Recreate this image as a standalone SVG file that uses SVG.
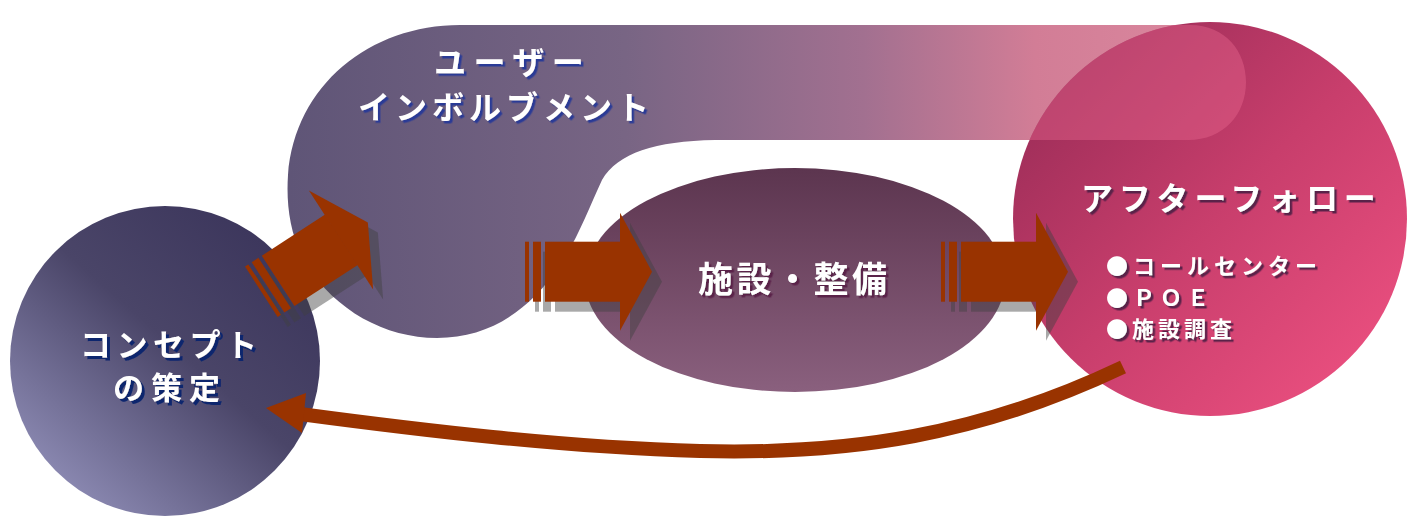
<svg xmlns="http://www.w3.org/2000/svg" width="1410" height="519" viewBox="0 0 1410 519">
<style>
.t{font-family:"Noto Sans CJK JP","Noto Sans",sans-serif;font-weight:700;fill:#ffffff}
.arrow{fill:#993300}
.shadow{fill:#404040;fill-opacity:0.45}
.ret{fill:none;stroke:#993300;stroke-width:14}
</style>
<defs>
<linearGradient id="gLeft" x1="0.85" y1="0.1" x2="0.15" y2="0.9">
<stop offset="0" stop-color="#3c365c"/>
<stop offset="0.45" stop-color="#4a4568"/>
<stop offset="1" stop-color="#8c8ab3"/>
</linearGradient>
<linearGradient id="gBlob" gradientUnits="userSpaceOnUse" x1="290" y1="0" x2="1246" y2="0">
<stop offset="0" stop-color="#5f5577"/>
<stop offset="0.35" stop-color="#786584"/>
<stop offset="0.6" stop-color="#a27090"/>
<stop offset="0.78" stop-color="#d27d96"/>
<stop offset="1" stop-color="#dc8aa0"/>
</linearGradient>
<linearGradient id="gMid" x1="0" y1="0" x2="0" y2="1">
<stop offset="0" stop-color="#5c354f"/>
<stop offset="1" stop-color="#8a607e"/>
</linearGradient>
<linearGradient id="gPink" gradientUnits="userSpaceOnUse" x1="1040" y1="80" x2="1350" y2="390">
<stop offset="0" stop-color="#9c2d58"/>
<stop offset="0.5" stop-color="#c83e6c"/>
<stop offset="1" stop-color="#ea4f7f"/>
</linearGradient>
<clipPath id="clipPink"><circle cx="1210" cy="219" r="197"/></clipPath>
<filter id="sBlue" x="-5%" y="-10%" width="115%" height="140%"><feDropShadow dx="2.5" dy="2.5" stdDeviation="0.3" flood-color="#2a3a96" flood-opacity="1"/></filter>
<filter id="sNavy" x="-5%" y="-10%" width="115%" height="140%"><feDropShadow dx="3" dy="3" stdDeviation="0.3" flood-color="#10286e" flood-opacity="1"/></filter>
<filter id="sPlum" x="-5%" y="-10%" width="115%" height="140%"><feDropShadow dx="2.5" dy="2.5" stdDeviation="0.3" flood-color="#5a2048" flood-opacity="1"/></filter>
<path id="blobPath" d="M 460,25 L 1190,25 C 1226,25 1246,52 1246,82 C 1246,114 1224,140 1188,140 L 715,140 C 655,141 618,153 602,180 C 588,210 578,238 560,265 C 530,310 490,338 437,338 C 385,338 335,310 307,265 C 290,237 286,205 288,175 C 295,85 370,25 460,25 Z"/>
<g id="arrowShape">
<rect x="-95" y="-30" width="4" height="60"/>
<rect x="-87" y="-30" width="8" height="60"/>
<rect x="-75" y="-30" width="75.5" height="60"/>
<polygon points="0,-59 32,0 0,59"/>
</g>
</defs>

<g id="node-user-involvement">
<use href="#blobPath" fill="url(#gBlob)"/>
<text class="t" x="434" y="74" font-size="32" letter-spacing="7.5" filter="url(#sBlue)">ユーザー</text>
<text class="t" x="358" y="119" font-size="32" letter-spacing="5" filter="url(#sBlue)">インボルブメント</text>
</g>

<g id="node-after-follow">
<circle cx="1210" cy="219" r="197" fill="url(#gPink)"/>
<use href="#blobPath" fill="#ec6a92" fill-opacity="0.4" clip-path="url(#clipPink)"/>
<text class="t" x="1081" y="210" font-size="32" letter-spacing="5.8" filter="url(#sPlum)">アフターフォロー</text>
<text class="t" x="1106" y="274" font-size="22" letter-spacing="5" filter="url(#sPlum)">●コールセンター</text>
<text class="t" x="1106" y="306" font-size="22" letter-spacing="5" filter="url(#sPlum)">●ＰＯＥ</text>
<text class="t" x="1106" y="337" font-size="22" letter-spacing="4" filter="url(#sPlum)">●施設調査</text>
</g>

<g id="node-facility">
<ellipse cx="795" cy="280" rx="210" ry="112" fill="url(#gMid)"/>
<text class="t" x="698" y="292" font-size="35" letter-spacing="3.5" filter="url(#sPlum)">施設・整備</text>
</g>

<g id="node-concept">
<circle cx="165" cy="361" r="155" fill="url(#gLeft)"/>
<text class="t" x="80" y="356" font-size="31" letter-spacing="5.5" filter="url(#sNavy)">コンセプト</text>
<text class="t" x="113" y="399" font-size="31" letter-spacing="7" filter="url(#sNavy)">の策定</text>
</g>

<g id="connectors">
<g class="shadow" transform="translate(10,10)">
<use href="#arrowShape" transform="translate(341,240) rotate(-33)"/>
<use href="#arrowShape" transform="translate(620,271.7)"/>
<use href="#arrowShape" transform="translate(1036,271.7)"/>
</g>
<g class="arrow">
<use href="#arrowShape" transform="translate(341,240) rotate(-33)"/>
<use href="#arrowShape" transform="translate(620,271.7)"/>
<use href="#arrowShape" transform="translate(1036,271.7)"/>
</g>
<path class="ret" d="M 1123,367 C 980,435 850,455 700,451 C 560,447 420,430 300,414"/>
<polygon class="arrow" points="266,408 306,393 302,433"/>
</g>
</svg>
